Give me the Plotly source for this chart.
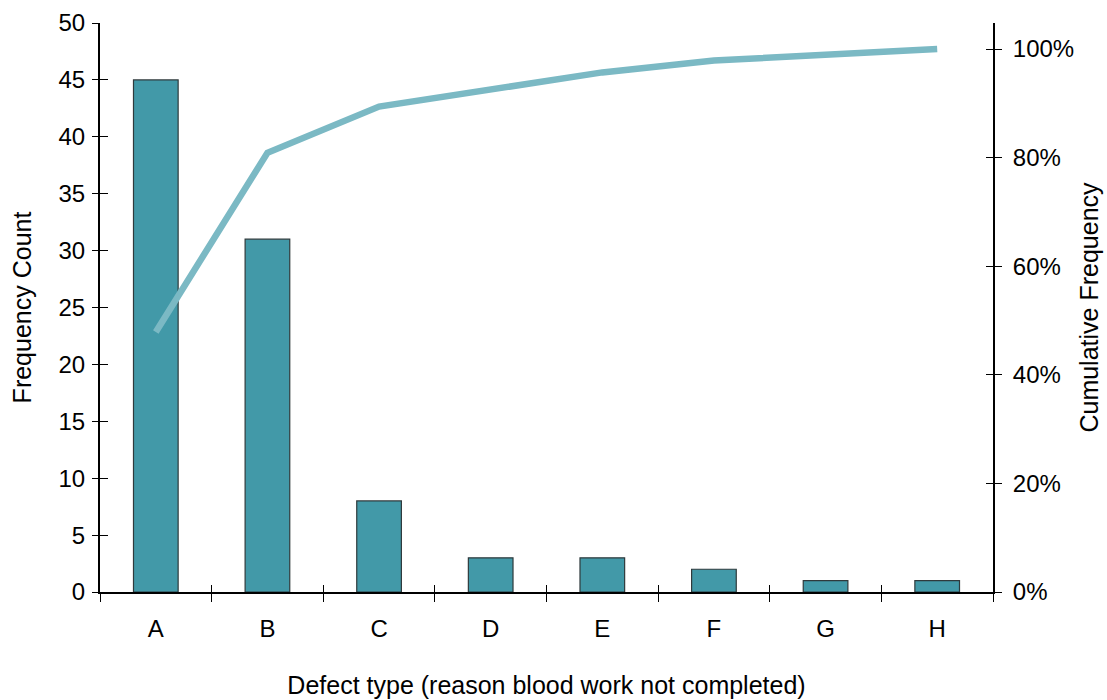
import plotly.graph_objects as go

categories = ["A", "B", "C", "D", "E", "F", "G", "H"]
frequency = [45, 31, 8, 3, 3, 2, 1, 1]
cumulative_pct = [47.9, 80.9, 89.4, 92.6, 95.7, 97.9, 98.9, 100.0]
left_ticks = list(range(0, 51, 5))
right_ticks = [0, 20, 40, 60, 80, 100]
right_tick_labels = ["0%", "20%", "40%", "60%", "80%", "100%"]

FONT = "Liberation Sans, Arial, Helvetica, sans-serif"
BAR = "#4299a8"
LINE = "#7bb9c4"

fig = go.Figure()
fig.add_trace(go.Bar(x=categories, y=frequency, width=0.4,
                     marker=dict(color=BAR, line=dict(color="#2f3a3c", width=1.2)),
                     xaxis="x", yaxis="y", showlegend=False))
fig.add_trace(go.Scatter(x=categories, y=cumulative_pct, mode="lines",
                         line=dict(color=LINE, width=6.5),
                         xaxis="x", yaxis="y2", showlegend=False))
# invisible helpers so the crossing-tick overlay axes are drawn
fig.add_trace(go.Scatter(x=categories, y=[None]*len(categories), mode="lines",
                         xaxis="x3", yaxis="y3", showlegend=False, hoverinfo="skip"))
fig.add_trace(go.Scatter(x=categories, y=[None]*len(categories), mode="lines",
                         xaxis="x3", yaxis="y4", showlegend=False, hoverinfo="skip"))

tickfont = dict(family=FONT, size=24, color="black")
titlefont = dict(family=FONT, size=25, color="black")

fig.update_layout(
    width=1107, height=700,
    margin=dict(l=100, r=114, t=23, b=108, autoexpand=False),
    paper_bgcolor="white", plot_bgcolor="white",
    font=dict(family=FONT, color="black"),
    bargap=0.6,
    xaxis=dict(type="category", categoryorder="array", categoryarray=categories,
               range=[-0.5, 7.5], tickson="boundaries", ticks="outside", ticklen=8,
               tickwidth=1.2, tickcolor="black", showline=True, linewidth=2,
               linecolor="black", showgrid=False, zeroline=False, tickfont=tickfont,
               ticklabelstandoff=14, automargin=False,
               title=dict(text="Defect type (reason blood work not completed)",
                          font=titlefont, standoff=36),
               anchor="y"),
    xaxis3=dict(type="category", categoryorder="array", categoryarray=categories,
                range=[-0.5, 7.5], tickson="boundaries", ticks="inside", ticklen=7,
                tickwidth=1.2, tickcolor="black", showline=False, showgrid=False,
                zeroline=False, showticklabels=False, overlaying="x", anchor="y",
                automargin=False),
    yaxis=dict(range=[0, 50], tickvals=left_ticks, ticks="outside", ticklen=6,
               tickwidth=1.2, tickcolor="black", showline=True, linewidth=2,
               linecolor="black", showgrid=False, zeroline=False, tickfont=tickfont,
               ticklabelstandoff=2, automargin=False,
               title=dict(text="Frequency Count", font=titlefont, standoff=20),
               anchor="x"),
    yaxis3=dict(range=[0, 50], tickvals=left_ticks, ticks="inside", ticklen=8,
                tickwidth=1.2, tickcolor="black", showline=False, showgrid=False,
                zeroline=False, showticklabels=False, overlaying="y", anchor="x",
                automargin=False),
    yaxis2=dict(range=[0, 104.8], tickmode="array", tickvals=right_ticks,
                ticktext=right_tick_labels,
                ticks="outside", ticklen=7, tickwidth=1.2, tickcolor="black",
                showline=True, linewidth=2, linecolor="black", showgrid=False,
                zeroline=False, tickfont=tickfont, side="right", overlaying="y",
                anchor="x", ticklabelstandoff=6, automargin=False,
                title=dict(text="Cumulative Frequency", font=titlefont, standoff=7)),
    yaxis4=dict(range=[0, 104.8], tickvals=right_ticks, ticks="inside", ticklen=7,
                tickwidth=1.2, tickcolor="black", showline=False, showgrid=False,
                zeroline=False, showticklabels=False, side="right", overlaying="y",
                anchor="x", automargin=False),
)

fig.write_html("out.html")
